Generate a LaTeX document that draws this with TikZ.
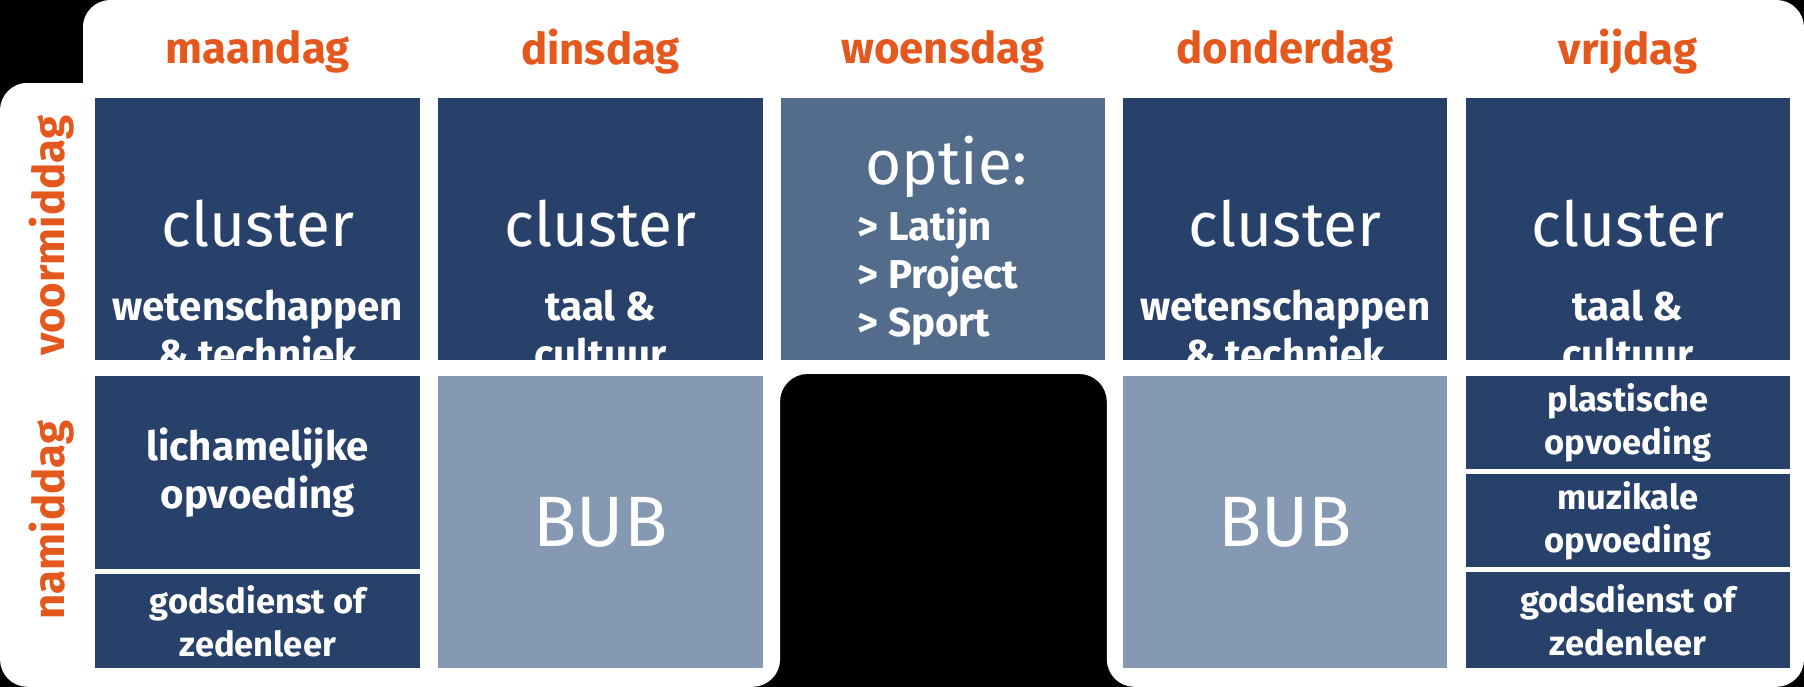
\documentclass[tikz,border=0pt]{standalone}
\usepackage{fontspec}
\setmainfont{Fira Sans}
\definecolor{navy}{HTML}{27416B}
\definecolor{midblue}{HTML}{536C8C}
\definecolor{bub}{HTML}{8599B3}
\definecolor{orng}{HTML}{E4581E}
\newcommand{\bigf}{\fontsize{27}{30}\selectfont}
\newcommand{\subf}{\bfseries\fontsize{17.5}{21}\selectfont}
\begin{document}
\begin{tikzpicture}[x=0.5pt,y=-0.5pt,
  cell/.style={fill=navy,text=white,align=center,inner sep=0pt,minimum width=141pt},
  day/.style={text=orng,font=\bfseries\fontsize{19}{22}\selectfont},
  side/.style={text=orng,font=\bfseries\fontsize{19}{22}\selectfont,rotate=90}]
\fill[black] (0,0) rectangle (1568,597);
\useasboundingbox (0,0) rectangle (1568,597);
\fill[white,rounded corners=12] (72,0) -- (1568,0) -- (1568,597) -- (962,597) -- (962,325) -- (678,325) -- (678,597) -- (0,597) -- (0,72) -- (72,72) -- cycle;
\fill[black] (0,0) rectangle (72,72);
% day labels
\node[day] (d1) at (224,45) {maandag};
\node[day] (d2) at (522,45) {dinsdag};
\node[day] (d3) at (819.5,45) {woensdag};
\node[day] (d4) at (1117,45) {donderdag};
\node[day] (d5) at (1415,45) {vrijdag};
\node[side] (s1) at (45,205) {voormiddag};
\node[side] (s2) at (45,452) {namiddag};
% morning
\node[cell,minimum height=114pt] (m1) at (224,199) {};
\node[cell,minimum height=114pt] (m2) at (522,199) {};
\node[cell,fill=midblue,minimum height=114pt] (m3) at (819.5,199) {};
\node[cell,minimum height=114pt] (m4) at (1117,199) {};
\node[cell,minimum height=114pt] (m5) at (1415,199) {};
\foreach \n in {m1,m2,m4,m5}{
  \node[text=white,font=\bigf] at ([yshift=-55pt]\n.north) {cluster};}
\foreach \n in {m1,m4}{
  \node[text=white,align=center,font=\subf] at ([yshift=-101pt]\n.north) {wetenschappen\\ \& techniek};}
\foreach \n in {m2,m5}{
  \node[text=white,align=center,font=\subf] at ([yshift=-101pt]\n.north) {taal \&\\ cultuur};}
\node[text=white,font=\bigf,anchor=west] (m3a) at (745,145) {optie:};
\node[text=white,align=left,font=\subf,anchor=north west,inner sep=0pt] (m3b) at (745,180) {> Latijn\\ > Project\\ > Sport};
% afternoon
\node[cell,minimum height=84pt,font=\subf] (a1a) at (224,411) {lichamelijke\\ opvoeding};
\node[cell,minimum height=41pt,font=\bfseries\fontsize{15}{18.5}\selectfont] (a1b) at (224,540) {godsdienst of\\ zedenleer};
\node[cell,fill=bub,minimum height=127pt,font=\fontsize{31}{34}\selectfont] (a2) at (522,454) {BUB};
\node[cell,fill=bub,minimum height=127pt,font=\fontsize{31}{34}\selectfont] (a4) at (1117,454) {BUB};
\node[cell,minimum height=40.5pt,font=\bfseries\fontsize{15}{18.5}\selectfont] (a5a) at (1415,367.5) {plastische\\ opvoeding};
\node[cell,minimum height=40.5pt,font=\bfseries\fontsize{15}{18.5}\selectfont] (a5b) at (1415,452.5) {muzikale\\ opvoeding};
\node[cell,minimum height=42pt,font=\bfseries\fontsize{15}{18.5}\selectfont] (a5c) at (1415,539) {godsdienst of\\ zedenleer};
\end{tikzpicture}
\end{document}
